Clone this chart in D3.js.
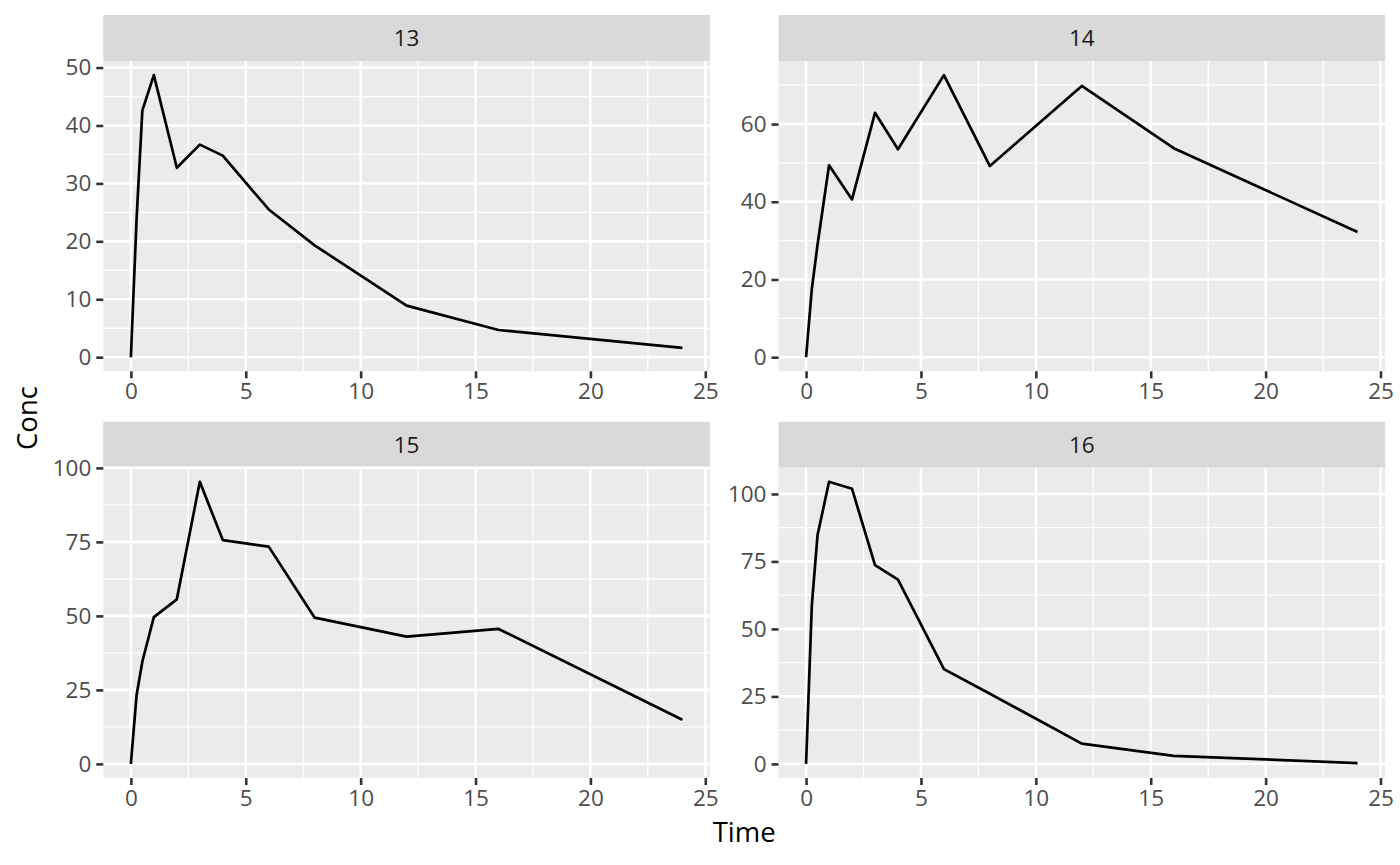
<!DOCTYPE html>
<html>
<head>
<meta charset="utf-8">
<script src="https://cdn.jsdelivr.net/npm/d3@7"></script>
<style>
  body { margin: 0; background: #fff; }
  svg text { font-family: "Open Sans", "Noto Sans", sans-serif; }
</style>
</head>
<body>
<div id="chart"></div>
<script>
// sampling times (h), shared by all subjects
var times = [0, 0.25, 0.5, 1, 2, 3, 4, 6, 8, 12, 16, 24];

// concentration per subject
var subjects = ["13", "14", "15", "16"];
var conc13 = [0, 24, 42.6, 48.7, 32.7, 36.7, 34.8, 25.5, 19.3, 8.9, 4.7, 1.6];
var conc14 = [0, 17.5, 29, 49.4, 40.6, 62.9, 53.5, 72.6, 49.2, 69.8, 53.8, 32.2];
var conc15 = [0, 23.3, 34.6, 49.6, 55.6, 95.3, 75.6, 73.4, 49.4, 43, 45.6, 14.9];
var conc16 = [0, 58.7, 84.8, 104.5, 101.9, 73.6, 68.3, 35.1, 26, 7.5, 3, 0.3];

// tick breaks
var xTicks = [0, 5, 10, 15, 20, 25];
var yTicks13 = [0, 10, 20, 30, 40, 50];
var yTicks14 = [0, 20, 40, 60];
var yTicks15 = [0, 25, 50, 75, 100];
var yTicks16 = [0, 25, 50, 75, 100];

var W = 1400, H = 865;
var svg = d3.select('#chart').append('svg')
            .attr('width', W)
            .attr('height', H);

var concs = [conc13, conc14, conc15, conc16];
var yTicksAll = [yTicks13, yTicks14, yTicks15, yTicks16];

// panel boxes (strip on top, plot below)
var cols = [103.3, 778.5];
var panelW = 606.6;
var rows = [15, 421.7];
var stripH = 46;
var plotH = 310.3;

var tickLen = 7, fontSize = 22.5;

// ggplot-style expanded domain
function expand(lo, hi){
  var d = (hi - lo) * 0.05;
  return [lo - d, hi + d];
}
// minor breaks between majors
function minors(ticks, domain){
  var step = ticks[1] - ticks[0];
  var out = [];
  for (var v = ticks[0] - step / 2; v <= ticks[ticks.length - 1] + step / 2 + 1e-9; v += step){
    if (v > domain[0] && v < domain[1]) out.push(v);
  }
  return out;
}

subjects.forEach(function(id, i){
  var x0 = cols[i % 2];
  var y0 = rows[Math.floor(i / 2)];
  var data = times.map(function(t, k){ return {t: t, c: concs[i][k]}; });

  var g = svg.append('g')
             .attr('class', 'panel panel-' + id)
             .attr('transform', 'translate(' + x0 + ',' + y0 + ')');

  // strip
  g.append('rect')
   .attr('width', panelW)
   .attr('height', stripH)
   .attr('fill', '#D9D9D9');
  g.append('text')
   .attr('x', panelW / 2)
   .attr('y', stripH / 2)
   .attr('dy', '0.35em')
   .attr('text-anchor', 'middle')
   .attr('fill', '#1A1A1A')
   .style('font-size', fontSize + 'px')
   .text(id);

  var plot = g.append('g')
              .attr('transform', 'translate(0,' + stripH + ')');

  var xDom = expand(d3.min(times), d3.max(times));
  var yDom = expand(d3.min(concs[i]), d3.max(concs[i]));

  var x = d3.scaleLinear().domain(xDom).range([0, panelW]);
  var y = d3.scaleLinear().domain(yDom).range([plotH, 0]);

  plot.append('rect')
      .attr('width', panelW)
      .attr('height', plotH)
      .attr('fill', '#EBEBEB');

  // minor grid
  var grid = plot.append('g').attr('class', 'grid');
  grid.selectAll('.vminor')
      .data(minors(xTicks, xDom))
      .enter().append('line')
      .attr('x1', d => x(d)).attr('x2', d => x(d))
      .attr('y1', 0).attr('y2', plotH)
      .attr('stroke', '#fff').attr('stroke-width', 1.3);
  grid.selectAll('.hminor')
      .data(minors(yTicksAll[i], yDom))
      .enter().append('line')
      .attr('y1', d => y(d)).attr('y2', d => y(d))
      .attr('x1', 0).attr('x2', panelW)
      .attr('stroke', '#fff').attr('stroke-width', 1.3);
  // major grid
  grid.selectAll('.vmajor')
      .data(xTicks)
      .enter().append('line')
      .attr('x1', d => x(d)).attr('x2', d => x(d))
      .attr('y1', 0).attr('y2', plotH)
      .attr('stroke', '#fff').attr('stroke-width', 2.6);
  grid.selectAll('.hmajor')
      .data(yTicksAll[i].filter(v => v >= yDom[0] && v <= yDom[1]))
      .enter().append('line')
      .attr('y1', d => y(d)).attr('y2', d => y(d))
      .attr('x1', 0).attr('x2', panelW)
      .attr('stroke', '#fff').attr('stroke-width', 2.6);

  // the curve
  var line = d3.line().x(d => x(d.t)).y(d => y(d.c));
  plot.append('path')
      .datum(data)
      .attr('d', line)
      .attr('fill', 'none')
      .attr('stroke', '#000')
      .attr('stroke-width', 2.7)
      .attr('stroke-linejoin', 'round');

  // axes
  var xAxis = plot.append('g')
                  .attr('class', 'x-axis')
                  .attr('transform', 'translate(0,' + plotH + ')')
                  .call(d3.axisBottom(x).tickValues(xTicks).tickSize(tickLen).tickPadding(5));
  var yAxis = plot.append('g')
                  .attr('class', 'y-axis')
                  .call(d3.axisLeft(y).tickValues(yTicksAll[i].filter(v => v >= yDom[0] && v <= yDom[1]))
                                      .tickSize(tickLen).tickPadding(5));
  [xAxis, yAxis].forEach(function(ax){
    ax.select('.domain').remove();
    ax.selectAll('.tick line').attr('stroke', '#333333').attr('stroke-width', 2.6);
    ax.selectAll('.tick text')
      .attr('fill', '#4D4D4D')
      .style('font-size', fontSize + 'px')
      .attr('font-family', null);
  });
});

// axis titles
svg.append('text')
   .attr('x', (cols[0] + cols[1] + panelW) / 2)
   .attr('y', 842)
   .attr('text-anchor', 'middle')
   .attr('fill', '#000')
   .style('font-size', '27.5px')
   .text('Time');

svg.append('text')
   .attr('transform', 'translate(37,' + 418 + ') rotate(-90)')
   .attr('text-anchor', 'middle')
   .attr('fill', '#000')
   .style('font-size', '27.5px')
   .text('Conc');
</script>
</body>
</html>
